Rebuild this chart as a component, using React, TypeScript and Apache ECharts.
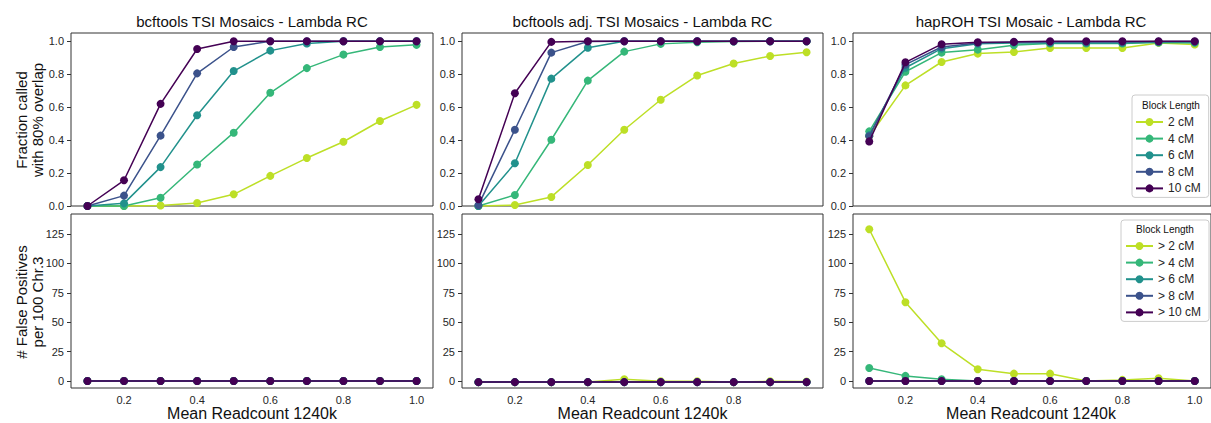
import React, { useEffect, useRef } from "react";
import * as echarts from "echarts";

const xs = [0.1, 0.2, 0.3, 0.4, 0.5, 0.6, 0.7, 0.8, 0.9, 1.0];
const blockLabels = ["2 cM", "4 cM", "6 cM", "8 cM", "10 cM"];
const fpLabels = ["> 2 cM", "> 4 cM", "> 6 cM", "> 8 cM", "> 10 cM"];
const panelTitles = [
  "bcftools TSI Mosaics - Lambda RC",
  "bcftools adj. TSI Mosaics - Lambda RC",
  "hapROH TSI Mosaic - Lambda RC",
];
const xTicksFull = [0.2, 0.4, 0.6, 0.8, 1.0];
const xTicksMid = [0.2, 0.4, 0.6, 0.8];
const fracTicks = [0, 0.2, 0.4, 0.6, 0.8, 1.0];
const fpTicks = [0, 25, 50, 75, 100, 125];

// bcftools: fraction called
const bcf2 = [0, 0, 0.003, 0.018, 0.071, 0.183, 0.291, 0.39, 0.516, 0.614];
const bcf4 = [0, 0, 0.05, 0.252, 0.445, 0.687, 0.837, 0.919, 0.965, 0.978];
const bcf6 = [0, 0.016, 0.236, 0.551, 0.819, 0.943, 0.986, 1, 1, 1];
const bcf8 = [0, 0.063, 0.427, 0.805, 0.965, 1, 1, 1, 1, 1];
const bcf10 = [0, 0.156, 0.62, 0.953, 1, 1, 1, 1, 1, 1];

// bcftools adj.: fraction called
const adj2 = [0, 0.006, 0.055, 0.249, 0.463, 0.645, 0.792, 0.865, 0.91, 0.933];
const adj4 = [0, 0.067, 0.402, 0.761, 0.937, 0.984, 0.994, 0.998, 1, 1];
const adj6 = [0, 0.259, 0.773, 0.961, 1, 1, 1, 1, 1, 1];
const adj8 = [0.005, 0.463, 0.931, 0.998, 1, 1, 1, 1, 1, 1];
const adj10 = [0.041, 0.684, 0.996, 1, 1, 1, 1, 1, 1, 1];

// hapROH: fraction called
const hap2 = [0.423, 0.732, 0.874, 0.925, 0.935, 0.959, 0.959, 0.959, 0.99, 0.98];
const hap4 = [0.453, 0.815, 0.931, 0.949, 0.976, 0.986, 0.986, 0.986, 0.992, 0.99];
const hap6 = [0.43, 0.839, 0.955, 0.985, 0.99, 0.99, 0.99, 0.99, 0.995, 0.995];
const hap8 = [0.423, 0.858, 0.965, 0.99, 0.995, 0.995, 0.995, 0.995, 0.998, 0.998];
const hap10 = [0.392, 0.872, 0.982, 0.994, 0.996, 1, 1, 1, 1, 1];

// false positives per 100 Chr.3
const bcfFP2 = [0, 0, 0, 0, 0, 0, 0, 0, 0, 0];
const bcfFP4 = [0, 0, 0, 0, 0, 0, 0, 0, 0, 0];
const bcfFP6 = [0, 0, 0, 0, 0, 0, 0, 0, 0, 0];
const bcfFP8 = [0, 0, 0, 0, 0, 0, 0, 0, 0, 0];
const bcfFP10 = [0, 0, 0, 0, 0, 0, 0, 0, 0, 0];

const adjFP2 = [-1, -1, -1, -1, 1.5, -0.3, -0.3, -1, -0.3, -0.5];
const adjFP4 = [-1, -1, -1, -1, -1, -1, -1, -1, -1, -1];
const adjFP6 = [-1, -1, -1, -1, -1, -1, -1, -1, -1, -1];
const adjFP8 = [-1, -1, -1, -1, -1, -1, -1, -1, -1, -1];
const adjFP10 = [-1, -1, -1, -1, -1, -1, -1, -1, -1, -1];

const hapFP2 = [129, 67, 32, 10, 6.2, 6.2, 0, 0.9, 2.3, 0];
const hapFP4 = [11, 4.3, 1.4, 0, 0, 0, 0, 0, 0, 0];
const hapFP6 = [0, 0, 0, 0, 0, 0, 0, 0, 0, 0];
const hapFP8 = [0, 0, 0, 0, 0, 0, 0, 0, 0, 0];
const hapFP10 = [0, 0, 0, 0, 0, 0, 0, 0, 0, 0];

const colors = ["#bddf26", "#35b779", "#21918c", "#3b528b", "#440154"];
const FONT = "'Liberation Sans', Arial, sans-serif";

const topSets = [
  [bcf2, bcf4, bcf6, bcf8, bcf10],
  [adj2, adj4, adj6, adj8, adj10],
  [hap2, hap4, hap6, hap8, hap10],
];
const botSets = [
  [bcfFP2, bcfFP4, bcfFP6, bcfFP8, bcfFP10],
  [adjFP2, adjFP4, adjFP6, adjFP8, adjFP10],
  [hapFP2, hapFP4, hapFP6, hapFP8, hapFP10],
];

const cols = [
  { left: 71, width: 362 },
  { left: 462, width: 361 },
  { left: 853, width: 366 },
];
const rows = [
  { top: 33, height: 173 },
  { top: 214, height: 174 },
];

export default function App() {
  const ref = useRef<HTMLDivElement>(null);
  useEffect(() => {
    if (!ref.current) return;
    const chart = echarts.init(ref.current, null, { renderer: "svg" });
    const grids: any[] = [];
    const xAxes: any[] = [];
    const yAxes: any[] = [];
    const series: any[] = [];
    let gi = 0;
    for (let r = 0; r < 2; r++) {
      for (let c = 0; c < 3; c++) {
        grids.push({
          left: cols[c].left,
          width: cols[c].width,
          top: rows[r].top,
          height: rows[r].height,
          show: true,
          borderColor: "#333",
          borderWidth: 1,
          backgroundColor: "transparent",
          containLabel: false,
        });
        const showX = r === 1;
        const xt = c === 1 ? xTicksMid : xTicksFull;
        xAxes.push({
          type: "value",
          gridIndex: gi,
          min: 0.055,
          max: 1.045,
          axisLine: { show: false },
          splitLine: { show: false },
          axisTick: {
            show: showX,
            customValues: xt,
            length: 4,
            lineStyle: { color: "#333" },
          },
          axisLabel: {
            show: showX,
            customValues: xt,
            formatter: (v: number) => v.toFixed(1),
            margin: 6,
            fontSize: 11,
            color: "#262626",
            fontFamily: FONT,
          },
        });
        const yt = r === 0 ? fracTicks : fpTicks;
        yAxes.push({
          type: "value",
          gridIndex: gi,
          min: r === 0 ? 0 : -6,
          max: r === 0 ? 1.05 : 142,
          axisLine: { show: false },
          splitLine: { show: false },
          axisTick: {
            show: true,
            customValues: yt,
            length: 4,
            lineStyle: { color: "#333" },
          },
          axisLabel: {
            show: true,
            customValues: yt,
            formatter: (v: number) => (r === 0 ? v.toFixed(1) : String(v)),
            margin: 7,
            fontSize: 11,
            color: "#262626",
            fontFamily: FONT,
          },
        });
        const sets = r === 0 ? topSets[c] : botSets[c];
        const names = r === 0 ? blockLabels : fpLabels;
        sets.forEach((vals, k) => {
          series.push({
            type: "line",
            name: names[k],
            xAxisIndex: gi,
            yAxisIndex: gi,
            data: xs.map((x, i) => [x, vals[i]]),
            symbol: "circle",
            symbolSize: 8,
            showSymbol: true,
            clip: false,
            lineStyle: { color: colors[k], width: 1.5 },
            itemStyle: { color: colors[k] },
            z: 2 + k,
          });
        });
        gi++;
      }
    }

    const legendCommon = {
      orient: "vertical",
      itemWidth: 27,
      itemHeight: 10,
      itemGap: 4.6,
      itemTextGap: 8,
      backgroundColor: "rgba(255,255,255,0.8)",
      borderColor: "#cccccc",
      borderWidth: 1,
      borderRadius: 3,
      textStyle: { fontSize: 12, color: "#262626", fontFamily: FONT },
      selectedMode: false,
    };

    const graphic: any[] = [];
    panelTitles.forEach((t, c) => {
      const cx = c === 2 ? 1031 : cols[c].left + cols[c].width / 2;
      graphic.push({
        type: "text",
        x: cx,
        y: 21,
        style: {
          text: t,
          fontSize: 15,
          fontFamily: FONT,
          fill: "#111",
          align: "center",
          verticalAlign: "middle",
        },
      });
      graphic.push({
        type: "text",
        x: cx,
        y: 413,
        style: {
          text: "Mean Readcount 1240k",
          fontSize: 16,
          fontFamily: FONT,
          fill: "#111",
          align: "center",
          verticalAlign: "middle",
        },
      });
    });
    graphic.push({
      type: "text",
      x: 29,
      y: 120,
      rotation: Math.PI / 2,
      style: {
        text: "Fraction called\nwith 80% overlap",
        fontSize: 15,
        lineHeight: 16,
        fontFamily: FONT,
        fill: "#111",
        align: "center",
        verticalAlign: "middle",
      },
    });
    graphic.push({
      type: "text",
      x: 29,
      y: 302,
      rotation: Math.PI / 2,
      style: {
        text: "# False Positives\nper 100 Chr.3",
        fontSize: 15,
        lineHeight: 16,
        fontFamily: FONT,
        fill: "#111",
        align: "center",
        verticalAlign: "middle",
      },
    });
    graphic.push({
      type: "text",
      x: 1171,
      y: 105,
      z: 100,
      style: {
        text: "Block Length",
        fontSize: 10,
        fontFamily: FONT,
        fill: "#111",
        align: "center",
        verticalAlign: "middle",
      },
    });
    graphic.push({
      type: "text",
      x: 1165,
      y: 229,
      z: 100,
      style: {
        text: "Block Length",
        fontSize: 10,
        fontFamily: FONT,
        fill: "#111",
        align: "center",
        verticalAlign: "middle",
      },
    });

    chart.setOption({
      animation: false,
      backgroundColor: "#ffffff",
      grid: grids,
      xAxis: xAxes,
      yAxis: yAxes,
      series,
      legend: [
        {
          ...legendCommon,
          left: 1132,
          top: 95,
          padding: [21, 8, 3, 3],
          data: blockLabels,
        },
        {
          ...legendCommon,
          left: 1121,
          top: 220,
          padding: [20, 8, 3, 4],
          data: fpLabels,
        },
      ],
      graphic,
    });
    return () => chart.dispose();
  }, []);
  return (
    <div
      ref={ref}
      style={{ position: "absolute", left: 0, top: 0, width: 1211, height: 423 }}
    />
  );
}
